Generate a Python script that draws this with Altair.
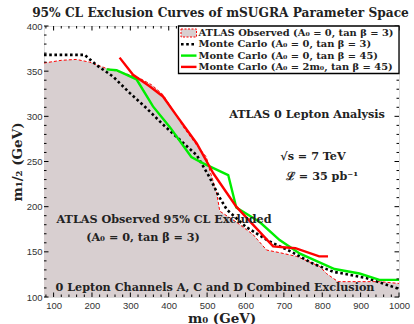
import altair as alt
import pandas as pd

# ATLAS observed 95% CL limit (A0 = 0, tan beta = 3)
m0_obs = [75, 120, 159, 194, 238, 290, 325, 355, 385, 420, 440, 473, 498, 507, 516, 525, 533,
          576, 620, 655, 690, 733, 793, 811, 841, 949, 1000]
m12_obs = [359, 362, 363, 360, 353, 347, 342, 335, 324, 301, 287, 268, 255, 240, 228, 215, 195,
           183, 169, 152, 149, 145, 134, 126, 117, 117, 115]

# Monte Carlo (A0 = 0, tan beta = 3)
m0_mc3 = [75, 181, 211, 255, 298, 342, 385, 429, 473, 507, 530, 551, 600, 660, 720, 776, 828,
          915, 1000]
m12_mc3 = [368, 368, 357, 344, 326, 309, 291, 274, 257, 232, 212, 197, 178, 162, 150, 137, 128,
           121, 109]

# Monte Carlo (A0 = 0, tan beta = 45)
m0_mc45 = [238, 264, 316, 359, 403, 459, 490, 555, 576, 637, 689, 742, 832, 897, 949, 1000]
m12_mc45 = [352, 351, 341, 311, 288, 255, 248, 235, 199, 183, 163, 148, 131, 126, 119, 119]

# Monte Carlo (A0 = 2 m0, tan beta = 45)
m0_mc2m = [272, 307, 351, 385, 420, 473, 516, 576, 672, 730, 792, 815]
m12_mc2m = [365, 346, 333, 322, 301, 270, 237, 200, 156, 154, 145, 145]

M12_FLOOR = 100

x_major = list(range(100, 1001, 100))
x_minor = [v for v in range(80, 1001, 20) if v % 100]
y_major = list(range(100, 401, 50))
y_minor = [v for v in range(110, 400, 10) if v % 50]

legend_labels = [
    "ATLAS Observed (A\u2080 = 0, tan \u03b2 = 3)",
    "Monte Carlo (A\u2080 = 0, tan \u03b2 = 3)",
    "Monte Carlo (A\u2080 = 0, tan \u03b2 = 45)",
    "Monte Carlo (A\u2080 = 2m\u2080, tan \u03b2 = 45)",
]
title_text = "95% CL Exclusion Curves of mSUGRA Parameter Space"

W, H = 355, 271
SERIF = "DejaVu Serif"
SANS = "Liberation Sans"
INK = "#222222"
FILL = "#d8cfd0"
GREEN = "#00ee00"
RED = "#ff0000"

xs = alt.Scale(domain=[75, 1000], nice=False, zero=False)
ys = alt.Scale(domain=[100, 400], nice=False, zero=False)

x_axis = alt.Axis(values=x_major, format="d", ticks=False, domain=False, grid=False,
                  labelFont=SANS, labelFontSize=9.5, labelColor="#333333", labelPadding=3,
                  labelOverlap=False, labelFlush=False,
                  title="m\u2080 (GeV)", titleFont=SERIF, titleFontSize=13.5,
                  titleFontWeight="bold", titleColor=INK, titleY=21, titleBaseline="middle")
y_axis = alt.Axis(values=y_major, format="d", ticks=False, domain=False, grid=False,
                  labelFont=SANS, labelFontSize=9.5, labelColor="#333333", labelPadding=2,
                  labelOverlap=False, labelFlush=False,
                  title="m\u2081/\u2082 (GeV)", titleFont=SERIF, titleFontSize=13.5,
                  titleFontWeight="bold", titleColor=INK, titleX=-27, titleY=H / 2,
                  titleAngle=-90, titleBaseline="middle", titleAlign="center")


def curve(m0, m12):
    return pd.DataFrame({"m0": m0, "m12": m12, "floor": M12_FLOOR, "i": range(len(m0))})


obs = curve(m0_obs, m12_obs)

excluded = alt.Chart(obs).mark_area(fill=FILL, opacity=1, clip=True).encode(
    x=alt.X("m0:Q", scale=xs, axis=x_axis),
    y=alt.Y("m12:Q", scale=ys, axis=y_axis),
    y2="floor:Q",
)
obs_edge = alt.Chart(obs).mark_line(color=RED, strokeWidth=1, strokeDash=[3, 2], clip=True).encode(
    x=alt.X("m0:Q", scale=xs, axis=x_axis), y=alt.Y("m12:Q", scale=ys, axis=y_axis),
    order="i:Q")
mc3 = alt.Chart(curve(m0_mc3, m12_mc3)).mark_line(
    color="black", strokeWidth=2.6, strokeDash=[2.6, 2.6], clip=True).encode(
    x=alt.X("m0:Q", scale=xs, axis=x_axis), y=alt.Y("m12:Q", scale=ys, axis=y_axis),
    order="i:Q")
mc45 = alt.Chart(curve(m0_mc45, m12_mc45)).mark_line(
    color=GREEN, strokeWidth=2.4, clip=True).encode(
    x=alt.X("m0:Q", scale=xs, axis=x_axis), y=alt.Y("m12:Q", scale=ys, axis=y_axis),
    order="i:Q")
mc2m = alt.Chart(curve(m0_mc2m, m12_mc2m)).mark_line(
    color=RED, strokeWidth=2.4, clip=True).encode(
    x=alt.X("m0:Q", scale=xs, axis=x_axis), y=alt.Y("m12:Q", scale=ys, axis=y_axis),
    order="i:Q")


# Inward frame ticks on all four sides
def xticks(vals, length):
    d = pd.DataFrame({"m0": vals})
    bottom = alt.Chart(d).mark_rule(color="black", strokeWidth=1).encode(
        x=alt.X("m0:Q", scale=xs, axis=x_axis), y=alt.value(H), y2=alt.value(H - length))
    top = alt.Chart(d).mark_rule(color="black", strokeWidth=1).encode(
        x=alt.X("m0:Q", scale=xs, axis=x_axis), y=alt.value(0), y2=alt.value(length))
    return bottom + top


def yticks(vals, length):
    d = pd.DataFrame({"m12": vals})
    left = alt.Chart(d).mark_rule(color="black", strokeWidth=1).encode(
        y=alt.Y("m12:Q", scale=ys, axis=y_axis), x=alt.value(0), x2=alt.value(length))
    right = alt.Chart(d).mark_rule(color="black", strokeWidth=1).encode(
        y=alt.Y("m12:Q", scale=ys, axis=y_axis), x=alt.value(W), x2=alt.value(W - length))
    return left + right


ticks = xticks(x_major, 4.5) + xticks(x_minor, 2.5) + yticks(y_major, 4.5) + yticks(y_minor, 2.5)


def label(text, x, y, size=11.2, align="center", baseline="middle"):
    return alt.Chart(pd.DataFrame({"t": [text]})).mark_text(
        font=SERIF, fontSize=size, fontWeight="bold", color=INK, align=align,
        baseline=baseline).encode(text="t:N", x=alt.value(x), y=alt.value(y))


notes = (
    label("ATLAS 0 Lepton Analysis", 263, 89)
    + label("\u221as = 7 TeV", 269, 131)
    + label("\u2112 = 35 pb\u207b\u00b9", 278, 151)
    + label("ATLAS Observed 95% CL Excluded", 120, 194)
    + label("(A\u2080 = 0, tan \u03b2 = 3)", 99, 212)
    + label("0 Lepton Channels A, C and D Combined Exclusion", 171, 262)
)

heading = label(title_text, W / 2 - 1, -9, size=12.2, baseline="alphabetic")

# Legend panel
LX0, LX1, LY1 = 134.5, 355, 47.5
SX0, SX1, TX = 137, 152.5, 154.5
rows = [7, 18.3, 29.6, 40.9]
box = alt.Chart(pd.DataFrame({"k": [0]})).mark_rect(
    fill="white", stroke="black", strokeWidth=1.3).encode(
    x=alt.value(LX0), x2=alt.value(LX1), y=alt.value(0), y2=alt.value(LY1))
sym_obs = alt.Chart(pd.DataFrame({"k": [0]})).mark_rect(
    fill=FILL, stroke=RED, strokeWidth=1, strokeDash=[2, 1.5]).encode(
    x=alt.value(SX0), x2=alt.value(SX1), y=alt.value(rows[0] - 4), y2=alt.value(rows[0] + 4))


def sym_line(y, color, dash=None, width=2.4):
    kw = dict(color=color, strokeWidth=width)
    if dash:
        kw["strokeDash"] = dash
    return alt.Chart(pd.DataFrame({"k": [0]})).mark_rule(**kw).encode(
        x=alt.value(SX0), x2=alt.value(SX1), y=alt.value(y))


legend = box + sym_obs + sym_line(rows[1], "black", [2.6, 2.6], 2.6) + \
    sym_line(rows[2], GREEN) + sym_line(rows[3], RED)
for r, t in zip(rows, legend_labels):
    legend = legend + label(t, TX, r, size=9.9, align="left")

chart = alt.layer(
    excluded, obs_edge, mc3, mc45, mc2m, notes, ticks, legend, heading
).properties(
    width=W, height=H,
    autosize=alt.AutoSizeParams(type="none"),
    padding={"left": 44, "top": 26, "right": 15, "bottom": 27},
).configure_view(
    stroke="black", strokeWidth=1.6
).configure_axis(
    labelOverlap=False, labelFlush=False
).configure(background="white")

chart.save("out.html", embed_options={"renderer": "svg", "actions": False})
